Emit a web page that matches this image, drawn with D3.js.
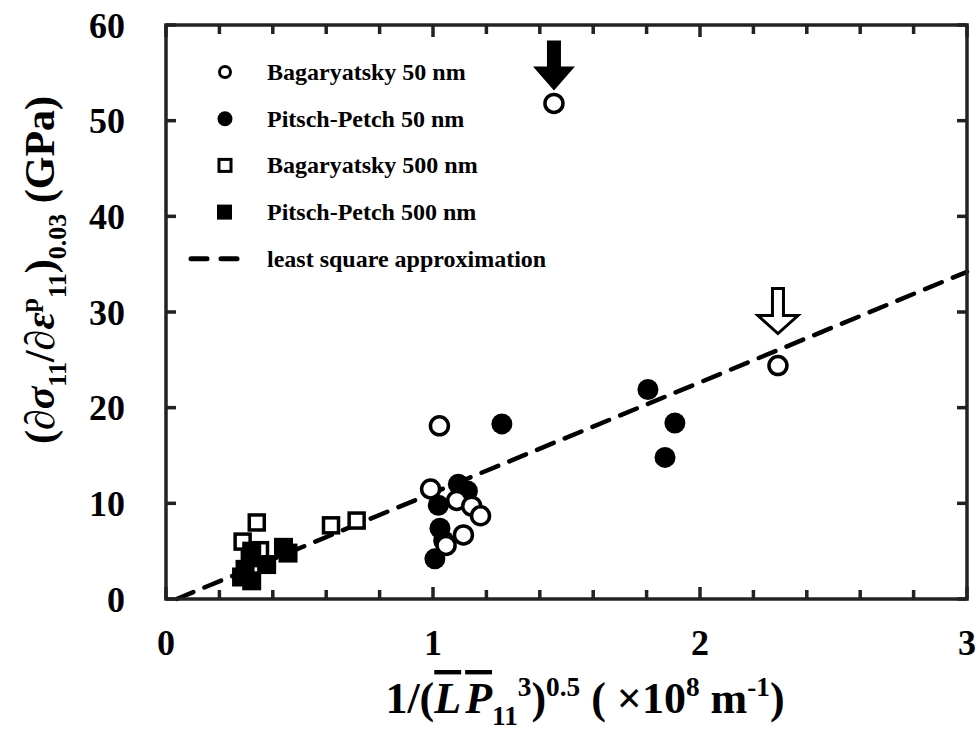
<html>
<head>
  <script src="https://d3js.org/d3.v7.min.js"></script>
  <style>
    body { margin: 0; background: #fff; }
    text { font-family: "Liberation Serif", "Times New Roman", serif; font-weight: bold; fill: #000; }
  </style>
</head>
<body>
  <svg id="chart" width="980" height="733"></svg>
  <script>
    // data
    const bag50 = [[1.453, 51.8], [2.292, 24.4], [1.024, 18.1], [0.991, 11.5], [1.089, 10.3],
                   [1.145, 9.7], [1.178, 8.7], [1.114, 6.7], [1.049, 5.6]];
    const pp50 = [[1.258, 18.3], [1.805, 21.9], [1.906, 18.4], [1.869, 14.8], [1.095, 12.0],
                  [1.129, 11.3], [1.020, 9.8], [1.026, 7.4], [1.040, 6.1], [1.007, 4.2]];
    const bag500 = [[0.287, 6.0], [0.340, 8.0], [0.352, 5.1], [0.618, 7.7], [0.714, 8.2]];
    const pp500 = [[0.283, 2.3], [0.321, 1.9], [0.296, 3.1], [0.315, 4.3], [0.321, 5.0],
                   [0.377, 3.6], [0.440, 5.4], [0.457, 4.8]];
    const fitLine = [[0.04, 0], [3, 34.2]];
    const xTicks = [0, 1, 2, 3];
    const yTicks = [0, 10, 20, 30, 40, 50, 60];
    const legendNames = ["Bagaryatsky 50 nm", "Pitsch-Petch 50 nm", "Bagaryatsky 500 nm",
                         "Pitsch-Petch 500 nm", "least square approximation"];

    const svg = d3.select("#chart");
    const x = d3.scaleLinear().domain([0, 3]).range([166, 967]);
    const y = d3.scaleLinear().domain([0, 60]).range([599, 25]);
    const ink = "#222";

    // dashed fit line
    svg.append("path")
      .attr("d", d3.line().x(d => x(d[0])).y(d => y(d[1]))(fitLine))
      .attr("fill", "none").attr("stroke", "#000").attr("stroke-width", 4.5)
      .attr("stroke-dasharray", "18,12").attr("stroke-linecap", "round");

    // markers
    svg.append("g").selectAll("rect").data(bag500).join("rect")
      .attr("x", d => x(d[0]) - 7.5).attr("y", d => y(d[1]) - 7.5)
      .attr("width", 15).attr("height", 15)
      .attr("fill", "#fff").attr("stroke", "#000").attr("stroke-width", 3.5);
    svg.append("g").selectAll("rect").data(pp500).join("rect")
      .attr("x", d => x(d[0]) - 9.5).attr("y", d => y(d[1]) - 9.5)
      .attr("width", 19).attr("height", 19).attr("fill", "#000");
    svg.append("g").selectAll("circle").data(pp50).join("circle")
      .attr("cx", d => x(d[0])).attr("cy", d => y(d[1])).attr("r", 10.5).attr("fill", "#000");
    svg.append("g").selectAll("circle").data(bag50).join("circle")
      .attr("cx", d => x(d[0])).attr("cy", d => y(d[1])).attr("r", 9)
      .attr("fill", "#fff").attr("stroke", "#000").attr("stroke-width", 3.5);

    // arrows above the two marked points
    function arrow(px, py, top, headY, tipY, half, shaft) {
      return `M${px - shaft},${py + top}L${px + shaft},${py + top}L${px + shaft},${py + headY}` +
        `L${px + half},${py + headY}L${px},${py + tipY}L${px - half},${py + headY}` +
        `L${px - shaft},${py + headY}Z`;
    }
    const pA = bag50[0], pB = bag50[1];
    svg.append("path").attr("d", arrow(x(pA[0]), y(pA[1]), -63, -37, -13, 21, 7)).attr("fill", "#000");
    svg.append("path").attr("d", arrow(x(pB[0]), y(pB[1]), -77, -50, -32, 20, 5.5))
      .attr("fill", "#fff").attr("stroke", "#000").attr("stroke-width", 3);

    // frame and ticks
    svg.append("rect").attr("x", x(0)).attr("y", y(60))
      .attr("width", x(3) - x(0)).attr("height", y(0) - y(60))
      .attr("fill", "none").attr("stroke", ink).attr("stroke-width", 3.5);
    const xMinor = d3.range(0, 3.001, 0.2);
    xMinor.forEach(v => {
      const major = Math.abs(v - Math.round(v)) < 1e-6;
      const len = major ? 12 : 9;
      svg.append("line").attr("x1", x(v)).attr("x2", x(v)).attr("y1", y(0)).attr("y2", y(0) - len)
        .attr("stroke", ink).attr("stroke-width", 3.5);
      svg.append("line").attr("x1", x(v)).attr("x2", x(v)).attr("y1", y(60)).attr("y2", y(60) + len)
        .attr("stroke", ink).attr("stroke-width", 3.5);
    });
    yTicks.forEach(v => {
      svg.append("line").attr("x1", x(0)).attr("x2", x(0) + 10).attr("y1", y(v)).attr("y2", y(v))
        .attr("stroke", ink).attr("stroke-width", 3.5);
      svg.append("line").attr("x1", x(3)).attr("x2", x(3) - 10).attr("y1", y(v)).attr("y2", y(v))
        .attr("stroke", ink).attr("stroke-width", 3.5);
    });

    // tick labels
    svg.append("g").selectAll("text").data(yTicks).join("text")
      .attr("x", 125).attr("y", d => y(d) + 12.5)
      .attr("text-anchor", "end").style("font-size", "36px").text(d => d);
    svg.append("g").selectAll("text").data(xTicks).join("text")
      .attr("x", d => x(d)).attr("y", 655)
      .attr("text-anchor", "middle").style("font-size", "36px").text(d => d);

    // rich text helper
    function rich(sel, parts, size) {
      let shift = 0;
      parts.forEach(p => {
        const ts = sel.append("tspan").text(p.t);
        let target = 0;
        if (p.s === "sub") target = size * 0.28;
        if (p.s === "sup") target = -size * 0.38;
        ts.attr("dy", target - shift);
        shift = target;
        if (p.dx) ts.attr("dx", p.dx);
        ts.style("font-size", p.s ? (size * 0.62) + "px" : size + "px");
        if (p.i) ts.style("font-style", "italic");
        if (p.o) ts.style("text-decoration", "overline");
      });
    }

    // axis titles
    const yt = svg.append("text").attr("text-anchor", "middle")
      .attr("transform", "translate(54,270) rotate(-90)");
    rich(yt, [{ t: "(" }, { t: "∂σ", i: 1 }, { t: "11", s: "sub" }, { t: "/" }, { t: "∂ε", i: 1 },
      { t: "p", s: "sup" }, { t: "11", s: "sub" }, { t: ")" }, { t: "0.03", s: "sub" }, { t: " (GPa)" }], 42);

    const xt = svg.append("text").attr("text-anchor", "middle").attr("x", 585).attr("y", 713);
    rich(xt, [{ t: "1/(" }, { t: "L", i: 1, o: 1 }, { t: "P", i: 1, o: 1, dx: 4 }, { t: "11", s: "sub" },
      { t: "3", s: "sup" }, { t: ")" }, { t: "0.5", s: "sup" }, { t: " ( ×10" }, { t: "8", s: "sup" },
      { t: " m" }, { t: "-1", s: "sup" }, { t: ")" }], 44);

    // legend
    const lg = svg.append("g");
    const rowY = d3.range(5).map(i => 72 + i * 46.7);
    lg.append("circle").attr("cx", 225).attr("cy", rowY[0]).attr("r", 5.5)
      .attr("fill", "#fff").attr("stroke", "#000").attr("stroke-width", 3);
    lg.append("circle").attr("cx", 225).attr("cy", rowY[1]).attr("r", 7.5).attr("fill", "#000");
    lg.append("rect").attr("x", 219).attr("y", rowY[2] - 6).attr("width", 12).attr("height", 12)
      .attr("fill", "#fff").attr("stroke", "#000").attr("stroke-width", 3);
    lg.append("rect").attr("x", 217).attr("y", rowY[3] - 7.5).attr("width", 15).attr("height", 15).attr("fill", "#000");
    lg.append("line").attr("x1", 191).attr("x2", 243).attr("y1", rowY[4]).attr("y2", rowY[4])
      .attr("stroke", "#000").attr("stroke-width", 5).attr("stroke-dasharray", "16,14")
      .attr("stroke-linecap", "round");
    lg.selectAll("text").data(legendNames).join("text")
      .attr("x", 267).attr("y", (d, i) => rowY[i] + 8)
      .style("font-size", "24px").text(d => d);
  </script>
</body>
</html>
